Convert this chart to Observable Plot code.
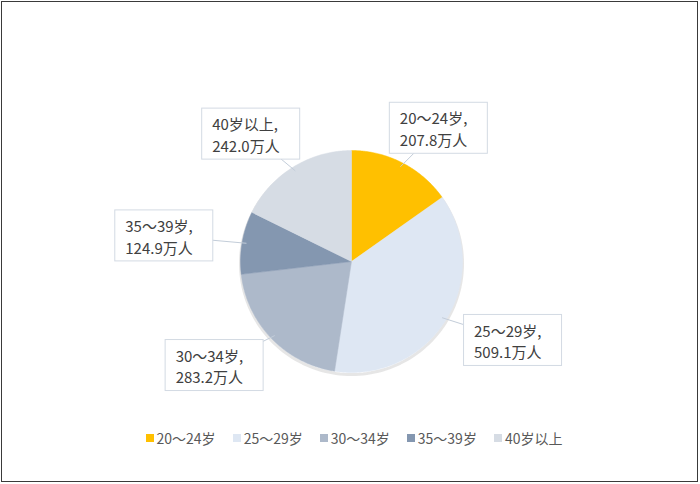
<!DOCTYPE html>
<html><head><meta charset="utf-8">
<script src="https://cdn.jsdelivr.net/npm/d3@7"></script>
<script src="https://cdn.jsdelivr.net/npm/@observablehq/plot@0.6"></script>
<style>
body{margin:0;background:#fff;font-family:"Noto Sans CJK SC","Noto Sans",sans-serif;}
#wrap{position:relative;width:700px;height:484px;overflow:hidden;background:#fff}
#frame{position:absolute;left:1px;top:1px;width:695px;height:479px;border:1.5px solid #3a3a3a;pointer-events:none}
#chart{position:absolute;left:0;top:0}
#legend{position:absolute;left:0;top:428px;width:700px;display:flex;justify-content:center;gap:17px;font-size:14px;color:#595959;padding-left:8px;box-sizing:border-box}
.item{display:flex;align-items:center;}
.sw{width:8px;height:8px;margin-right:3px;display:inline-block}
</style></head><body>
<div id="wrap"><div id="chart"></div><div id="legend"></div><div id="frame"></div></div>
<script>
// ---- data ----
const categories = ["20～24岁", "25～29岁", "30～34岁", "35～39岁", "40岁以上"];
const values = [207.8, 509.1, 283.2, 124.9, 242.0];
const unit = "万人";
const colors = ["#FFC000", "#DEE7F3", "#ADB9CA", "#8497B0", "#D6DCE4"];

// ---- layout ----
const W = 700, H = 420;
const cx = 351, cy = 261, R = 111;
const labelRx = 190, labelRy = 150;
const boxW = 98, boxH = 51;

const arcs = d3.pie().sort(null)(values);
const pt = (a, r) => ({x: cx + r * Math.sin(a), y: cy - r * Math.cos(a)});

const piePts = [];
arcs.forEach((d, i) => {
  const cat = categories[i];
  piePts.push({cat, ...pt(0, 0)});
  const n = Math.max(2, Math.ceil((d.endAngle - d.startAngle) / 0.01));
  for (let k = 0; k <= n; k++) {
    const a = d.startAngle + (d.endAngle - d.startAngle) * k / n;
    piePts.push({cat, ...pt(a, R)});
  }
  piePts.push({cat, ...pt(0, 0)});
});

const circlePts = d3.range(0, 361, 2).map(deg => pt(deg * Math.PI / 180, R));

const labels = arcs.map((d, i) => {
  const m = (d.startAngle + d.endAngle) / 2;
  const lx = cx + labelRx * Math.sin(m), ly = cy - labelRy * Math.cos(m);
  const e = pt(m, R - 4);
  return {
    cat: categories[i],
    text: `${categories[i]},\n${values[i].toFixed(1)}${unit}`,
    x1: lx - boxW / 2, x2: lx + boxW / 2, y1: ly - boxH / 2, y2: ly + boxH / 2,
    tx: lx - boxW / 2 + 10, ty: ly,
    ex: e.x, ey: e.y, lx, ly
  };
});
const leaders = labels.flatMap(l => [{cat: l.cat, x: l.ex, y: l.ey}, {cat: l.cat, x: l.lx, y: l.ly}]);

const chart = Plot.plot({
  width: W, height: H, margin: 0,
  x: {domain: [0, W], range: [0, W], axis: null},
  y: {domain: [0, H], range: [0, H], axis: null},
  color: {domain: categories, range: colors},
  style: {fontFamily: '"Noto Sans CJK SC","Noto Sans",sans-serif', background: "transparent"},
  marks: [
    Plot.line(circlePts, {x: "x", y: "y", stroke: "#9a9a9a", strokeWidth: 3, strokeOpacity: 0.25, dy: 2}),
    Plot.line(piePts, {x: "x", y: "y", z: "cat", fill: "cat", stroke: "cat", strokeWidth: 0.5, curve: "linear"}),
    Plot.line(leaders, {x: "x", y: "y", z: "cat", stroke: "#c3cdd9", strokeWidth: 1}),
    Plot.rect(labels, {x1: "x1", x2: "x2", y1: "y1", y2: "y2", fill: "white", stroke: "#d3dae3", strokeWidth: 1}),
    Plot.text(labels, {x: "tx", y: "ty", text: "text", textAnchor: "start", fontSize: 15, lineHeight: 1.45, fill: "#404040"})
  ]
});
document.getElementById("chart").appendChild(chart);

// ---- legend ----
const legend = document.getElementById("legend");
categories.forEach((c, i) => {
  const it = document.createElement("div");
  it.className = "item";
  it.innerHTML = `<span class="sw" style="background:${colors[i]}"></span><span>${c}</span>`;
  legend.appendChild(it);
});
</script>
</body></html>
